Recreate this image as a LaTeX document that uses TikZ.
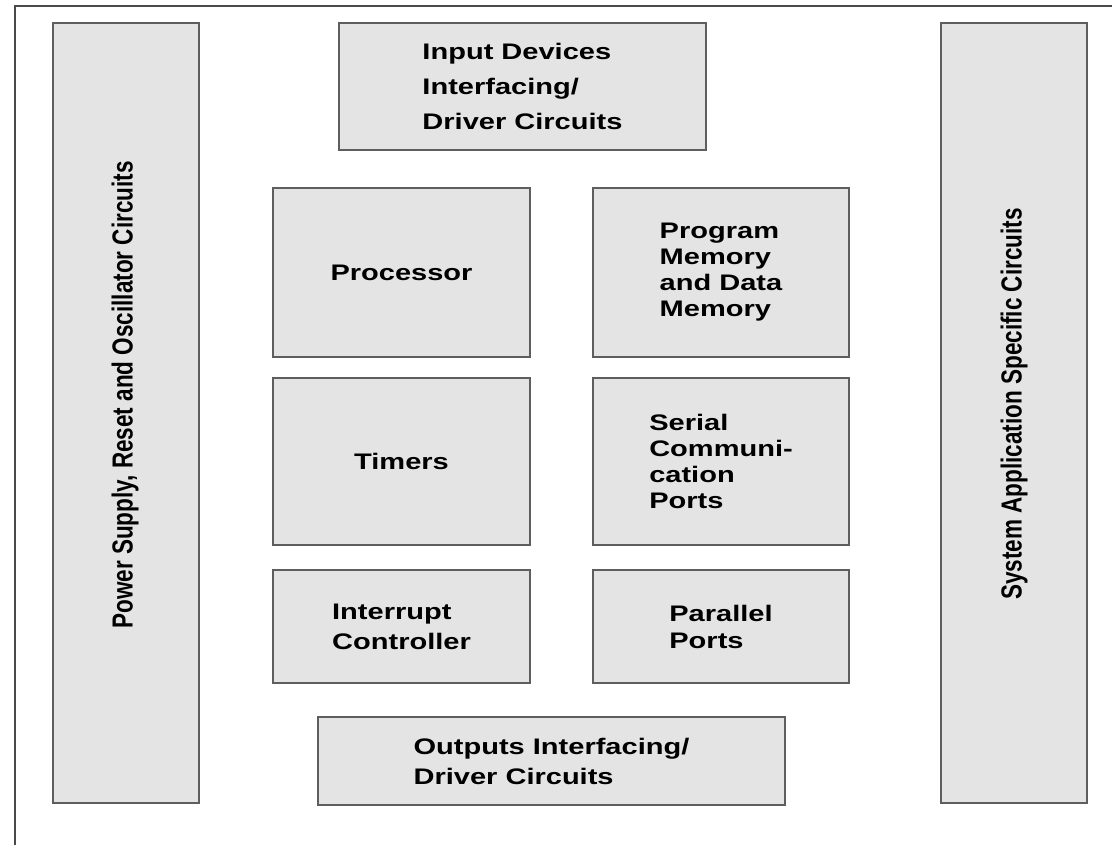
\documentclass[tikz,border=0pt]{standalone}
\usepackage{fontspec}
\setmainfont{Liberation Sans}[FakeStretch=1.29]
\newfontfamily\barfont{Liberation Sans}
\usepackage{tikz}
\usetikzlibrary{positioning}
\definecolor{blockfill}{HTML}{E4E4E4}
\definecolor{blockline}{HTML}{5E5E5E}
\definecolor{framegray}{HTML}{4A4A4A}

\begin{document}
\begin{tikzpicture}[x=1pt,y=-1pt,
 block/.style={draw=blockline,fill=blockfill,line width=2pt,align=left,inner sep=0pt,font=\bfseries\fontsize{22.5}{26}\selectfont},
 sidebar/.style={draw=blockline,fill=blockfill,line width=2pt,inner sep=0pt,minimum width=146pt,minimum height=780pt},
 bartext/.style={rotate=90,inner sep=0pt,font=\barfont\bfseries\fontsize{22.5}{26}\selectfont}
]
\useasboundingbox (0,0) rectangle (1112,845);
\draw[framegray,line width=1.8pt] (15,845) -- (15,6) -- (1112,6);
% side bars
\node[sidebar] (power) at (125.5,413) {};
\node[bartext] (powertext) at (125,395) {\scalebox{1}[1.29]{Power Supply, Reset and Oscillator Circuits}};
\node[sidebar] (system) at (1014,413) {};
\node[bartext] (systemtext) at (1014,404) {\scalebox{1}[1.29]{System Application Specific Circuits}};
% inner blocks
\node[block,minimum width=367pt,minimum height=127pt,font=\bfseries\fontsize{22.5}{35}\selectfont] (input) at (522.5,86.5) {Input Devices\\Interfacing/\\Driver Circuits};
\node[block,minimum width=257pt,minimum height=169pt] (processor) at (401.5,272.5) {Processor};
\node[block,minimum width=256pt,minimum height=169pt] (memory) at (721,272.5) {Program\\Memory\\and Data\\Memory};
\node[block,minimum width=257pt,minimum height=167pt] (timers) at (401.5,461.5) {Timers};
\node[block,minimum width=256pt,minimum height=167pt] (serial) at (721,461.5) {Serial\\Communi-\\cation\\Ports};
\node[block,minimum width=257pt,minimum height=113pt,font=\bfseries\fontsize{22.5}{30}\selectfont] (interrupt) at (401.5,626.5) {Interrupt\\Controller};
\node[block,minimum width=256pt,minimum height=113pt,font=\bfseries\fontsize{22.5}{27}\selectfont] (parallel) at (721,626.5) {Parallel\\Ports};
\node[block,minimum width=467pt,minimum height=88pt,font=\bfseries\fontsize{22.5}{30}\selectfont] (outputs) at (551.5,761) {Outputs Interfacing/\\Driver Circuits};
\end{tikzpicture}
\end{document}
